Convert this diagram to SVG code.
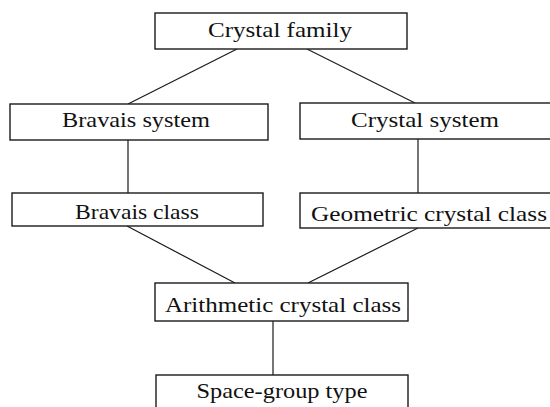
<svg xmlns="http://www.w3.org/2000/svg" width="550" height="407" viewBox="0 0 550 407">
<style>
.box{fill:#fff;stroke:#1a1a1a;stroke-width:1.4}
.lbl{font-family:"Liberation Serif","DejaVu Serif",serif;font-size:22px;fill:#111;text-anchor:middle}
.edge{stroke:#1a1a1a;stroke-width:1.2;fill:none}
</style>
<rect width="550" height="407" fill="#fff"/>
<g id="connectors">
<line class="edge" x1="237" y1="49" x2="128" y2="104"/>
<line class="edge" x1="307" y1="49" x2="415" y2="103"/>
<line class="edge" x1="128" y1="140" x2="128" y2="193"/>
<line class="edge" x1="418" y1="139" x2="418" y2="193"/>
<line class="edge" x1="127" y1="226" x2="235" y2="283"/>
<line class="edge" x1="418" y1="228" x2="308" y2="283"/>
<line class="edge" x1="273" y1="321" x2="273" y2="375"/>
</g>
<g id="crystal-family">
<rect class="box" x="155" y="13" width="252" height="36"/>
<text class="lbl" x="280" y="37" textLength="144" lengthAdjust="spacingAndGlyphs">Crystal family</text>
</g>
<g id="bravais-system">
<rect class="box" x="10" y="104" width="258" height="36"/>
<text class="lbl" x="136" y="127" textLength="148" lengthAdjust="spacingAndGlyphs">Bravais system</text>
</g>
<g id="crystal-system">
<rect class="box" x="300" y="103" width="260" height="36"/>
<text class="lbl" x="425" y="127" textLength="148" lengthAdjust="spacingAndGlyphs">Crystal system</text>
</g>
<g id="bravais-class">
<rect class="box" x="12" y="193" width="251" height="33"/>
<text class="lbl" x="137" y="219" textLength="124" lengthAdjust="spacingAndGlyphs">Bravais class</text>
</g>
<g id="geometric-crystal-class">
<rect class="box" x="300" y="193" width="260" height="35"/>
<text class="lbl" x="429" y="221" textLength="236" lengthAdjust="spacingAndGlyphs">Geometric crystal class</text>
</g>
<g id="arithmetic-crystal-class">
<rect class="box" x="155" y="283" width="253" height="38"/>
<text class="lbl" x="283" y="312" textLength="236" lengthAdjust="spacingAndGlyphs">Arithmetic crystal class</text>
</g>
<g id="space-group-type">
<rect class="box" x="156" y="375" width="252" height="40"/>
<text class="lbl" x="282" y="398" textLength="171" lengthAdjust="spacingAndGlyphs">Space-group type</text>
</g>
</svg>
